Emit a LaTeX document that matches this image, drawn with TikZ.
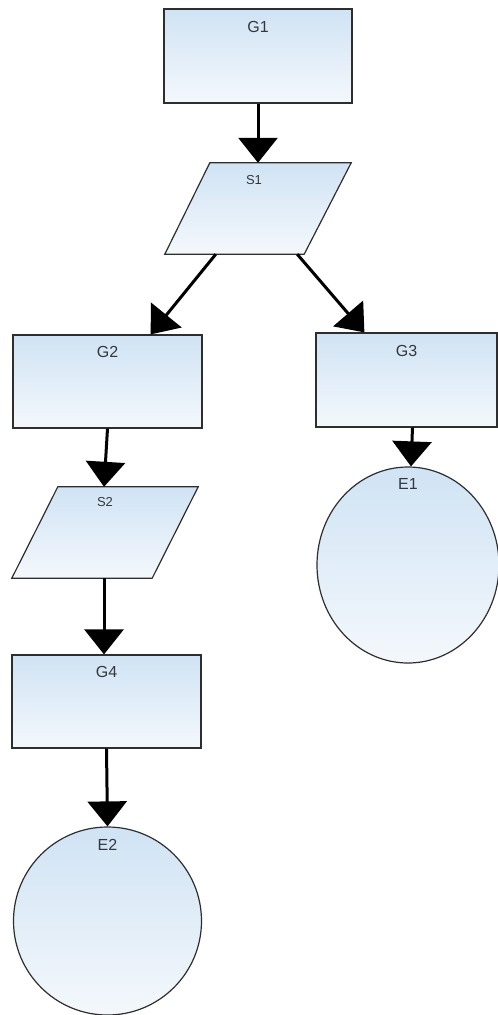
\documentclass[tikz,border=0pt]{standalone}
\usepackage{fontspec}
\setmainfont{Liberation Sans}
\usetikzlibrary{arrows.meta,shapes.geometric}
\definecolor{topblue}{HTML}{D0E3F4}
\definecolor{botblue}{HTML}{F4F8FC}
\definecolor{edgegray}{HTML}{2E2E2E}
\definecolor{txtgray}{HTML}{33383E}
\tikzset{
  boxfill/.style={draw=edgegray, line width=1.2pt, top color=topblue, bottom color=botblue},
  gbox/.style={boxfill, rectangle, inner sep=0pt, minimum width=#1},
  lbl/.style={font=\fontsize{16}{18}\selectfont, text=txtgray, inner sep=0pt, anchor=north},
  slbl/.style={font=\fontsize{13}{15}\selectfont, text=txtgray, inner sep=0pt, anchor=north},
  arr/.style={line width=3pt, -{Triangle[width=39pt,length=25pt]}},
  pbox/.style={rectangle, draw=none, inner sep=0pt, minimum width=186pt, minimum height=91pt},
}
\begin{document}
\begin{tikzpicture}[x=1pt,y=-1pt]
\useasboundingbox[fill=white] (0,0) rectangle (498,1015);

% rectangles
\node[gbox=188pt, minimum height=94pt, label={[lbl,yshift=-13pt]north:G1}] (G1) at (258,56) {};
\node[gbox=189pt, minimum height=93pt, label={[lbl,yshift=-12pt]north:G2}] (G2) at (107.5,381.5) {};
\node[gbox=181pt, minimum height=94pt, label={[lbl,yshift=-13pt]north:G3}] (G3) at (406.5,380) {};
\node[gbox=189pt, minimum height=93pt, label={[lbl,yshift=-12pt]north:G4}] (G4) at (106.5,701.5) {};

% parallelograms
\node[pbox] (S1) at (258,208.5) {};
\path[boxfill] (S1.south west) -- ([xshift=45pt]S1.north west) -- (S1.north east) -- ([xshift=-47pt]S1.south east) -- cycle;
\node[slbl] at ([yshift=-12pt,xshift=-4pt]S1.north) {S1};

\node[pbox] (S2) at (105,532.5) {};
\path[boxfill] (S2.south west) -- ([xshift=46pt]S2.north west) -- (S2.north east) -- ([xshift=-46pt]S2.south east) -- cycle;
\node[slbl] at ([yshift=-10pt]S2.north) {S2};

% ellipses / circles
\node[boxfill, ellipse, inner sep=0pt, minimum width=182pt, minimum height=196pt, label={[lbl,yshift=-12pt]north:E1}] (E1) at (408,565) {};
\node[boxfill, circle, inner sep=0pt, minimum size=188pt, label={[lbl,yshift=-13pt]north:E2}] (E2) at (107.5,921) {};

% connectors
\draw[arr] (G1.south) -- (S1.north);
\draw[arr] ([xshift=51pt]S1.south west) -- ([xshift=-52pt]G2.north east);
\draw[arr] ([xshift=-54pt]S1.south east) -- ([xshift=49pt]G3.north west);
\draw[arr] (G2.south) -- ([xshift=-1pt]S2.north);
\draw[arr] ([xshift=-1pt]S2.south) -- ([xshift=-2.5pt]G4.north);
\draw[arr] ([xshift=6pt]G3.south) -- ([xshift=3pt]E1.north);
\draw[arr] (G4.south) -- (E2.north);
\end{tikzpicture}
\end{document}
